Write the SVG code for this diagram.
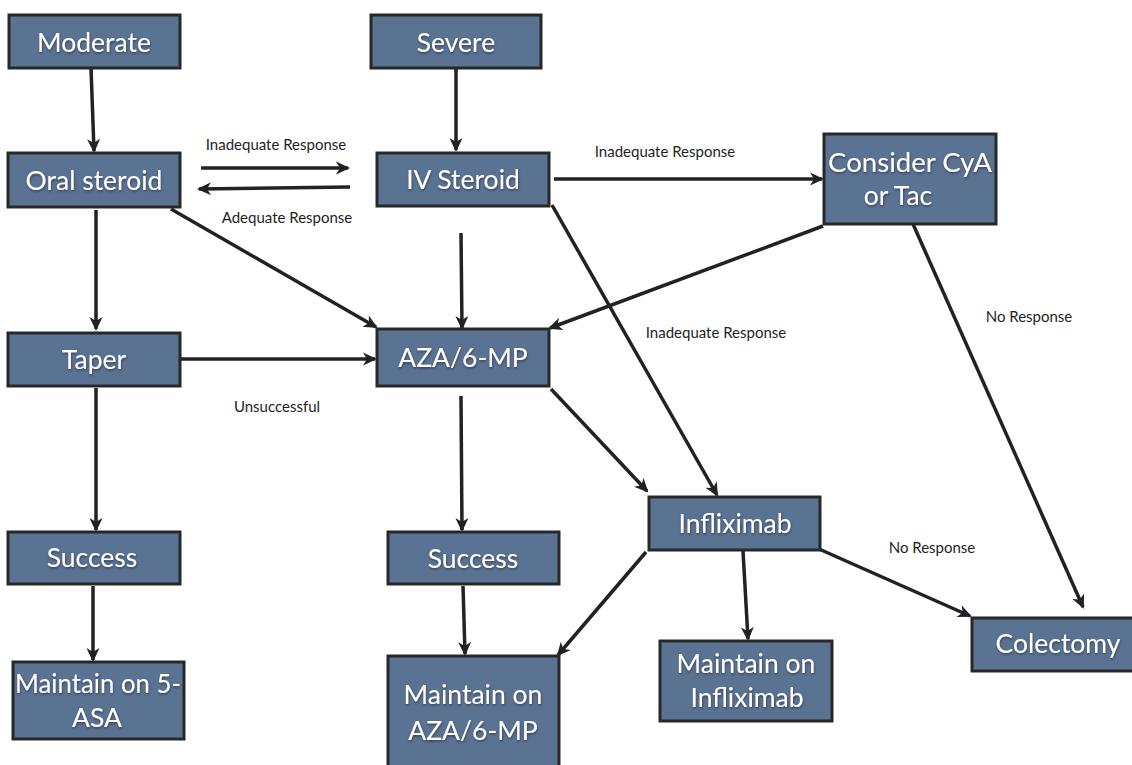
<svg xmlns="http://www.w3.org/2000/svg" width="1132" height="765" viewBox="0 0 1132 765">
<style>
.box{fill:#5b7393;stroke:#282828;stroke-width:3}
.nt{font-family:Lato,"Open Sans",sans-serif;font-size:26.5px;fill:#ffffff;text-anchor:middle;filter:url(#sh)}
.lb{font-family:Lato,"Open Sans",sans-serif;font-size:15px;fill:#1e1e1e;text-anchor:middle}
.c{stroke:#222222;stroke-width:3.5;fill:none;marker-end:url(#ah)}
</style>
<defs>
<marker id="ah" markerUnits="userSpaceOnUse" markerWidth="16" markerHeight="16" viewBox="0 0 16 16" refX="13" refY="8" orient="auto">
<path d="M1,1.5 L15,8 L1,14.5 L5,8 Z" fill="#222222"/>
</marker>
<filter id="sh" x="-10%" y="-20%" width="120%" height="150%">
<feDropShadow dx="0.5" dy="1.5" stdDeviation="0.8" flood-color="#2a3444" flood-opacity="0.8"/>
</filter>
</defs>
<rect width="1132" height="765" fill="#ffffff"/>
<g id="connectors">
<line class="c" x1="91" y1="68" x2="94" y2="151"/>
<line class="c" x1="201" y1="168" x2="348" y2="168"/>
<line class="c" x1="350" y1="187" x2="199" y2="189"/>
<line class="c" x1="456" y1="68" x2="456" y2="150"/>
<line class="c" x1="171" y1="209" x2="376" y2="327"/>
<line class="c" x1="96" y1="210" x2="96" y2="329"/>
<line class="c" x1="554" y1="179" x2="822" y2="179"/>
<line class="c" x1="461" y1="233" x2="462" y2="328"/>
<line class="c" x1="552" y1="205" x2="717" y2="495"/>
<line class="c" x1="823" y1="226" x2="550" y2="328"/>
<line class="c" x1="913" y1="224" x2="1083" y2="607"/>
<line class="c" x1="180" y1="359" x2="375" y2="359"/>
<line class="c" x1="461" y1="396" x2="462" y2="530"/>
<line class="c" x1="551" y1="389" x2="647" y2="491"/>
<line class="c" x1="96" y1="388" x2="96" y2="530"/>
<line class="c" x1="93" y1="586" x2="93" y2="660"/>
<line class="c" x1="463" y1="586" x2="465" y2="654"/>
<line class="c" x1="646" y1="552" x2="558" y2="655"/>
<line class="c" x1="743" y1="551" x2="748" y2="639"/>
<line class="c" x1="819" y1="549" x2="970" y2="616"/>
<text class="lb" x="276" y="150">Inadequate Response</text>
<text class="lb" x="287" y="223">Adequate Response</text>
<text class="lb" x="665" y="157">Inadequate Response</text>
<text class="lb" x="716" y="338">Inadequate Response</text>
<text class="lb" x="1029" y="322">No Response</text>
<text class="lb" x="932" y="553">No Response</text>
<text class="lb" x="277" y="412">Unsuccessful</text>
</g>
<g id="moderate"><rect class="box" x="9" y="15" width="171" height="53"/><text class="nt" x="94" y="52">Moderate</text></g>
<g id="severe"><rect class="box" x="371" y="15" width="170" height="53"/><text class="nt" x="456" y="52">Severe</text></g>
<g id="oral-steroid"><rect class="box" x="8" y="153" width="172" height="54"/><text class="nt" x="94" y="190">Oral steroid</text></g>
<g id="iv-steroid"><rect class="box" x="377" y="153" width="172" height="53"/><text class="nt" x="463" y="189">IV Steroid</text></g>
<g id="consider"><rect class="box" x="824" y="134" width="172" height="90"/><text class="nt" x="910" y="172" textLength="164" lengthAdjust="spacingAndGlyphs">Consider CyA</text><text class="nt" x="898" y="205">or Tac</text></g>
<g id="taper"><rect class="box" x="8" y="333" width="172" height="53"/><text class="nt" x="94" y="369">Taper</text></g>
<g id="aza"><rect class="box" x="377" y="329" width="172" height="57"/><text class="nt" x="463" y="367">AZA/6-MP</text></g>
<g id="success-left"><rect class="box" x="8" y="532" width="172" height="52"/><text class="nt" x="92" y="567">Success</text></g>
<g id="success-mid"><rect class="box" x="388" y="532" width="171" height="52"/><text class="nt" x="473" y="568">Success</text></g>
<g id="infliximab"><rect class="box" x="649" y="497" width="171" height="53"/><text class="nt" x="735" y="533">Infliximab</text></g>
<g id="maintain-5asa"><rect class="box" x="13" y="662" width="171" height="77"/><text class="nt" x="98" y="693" textLength="166" lengthAdjust="spacingAndGlyphs">Maintain on 5-</text><text class="nt" x="97" y="727">ASA</text></g>
<g id="maintain-aza"><rect class="box" x="388" y="656" width="171" height="115"/><text class="nt" x="473" y="704">Maintain on</text><text class="nt" x="473" y="740">AZA/6-MP</text></g>
<g id="maintain-infliximab"><rect class="box" x="660" y="641" width="172" height="80"/><text class="nt" x="746" y="673">Maintain on</text><text class="nt" x="747" y="707">Infliximab</text></g>
<g id="colectomy"><rect class="box" x="972" y="618" width="165" height="53"/><text class="nt" x="1058" y="653">Colectomy</text></g>
</svg>
